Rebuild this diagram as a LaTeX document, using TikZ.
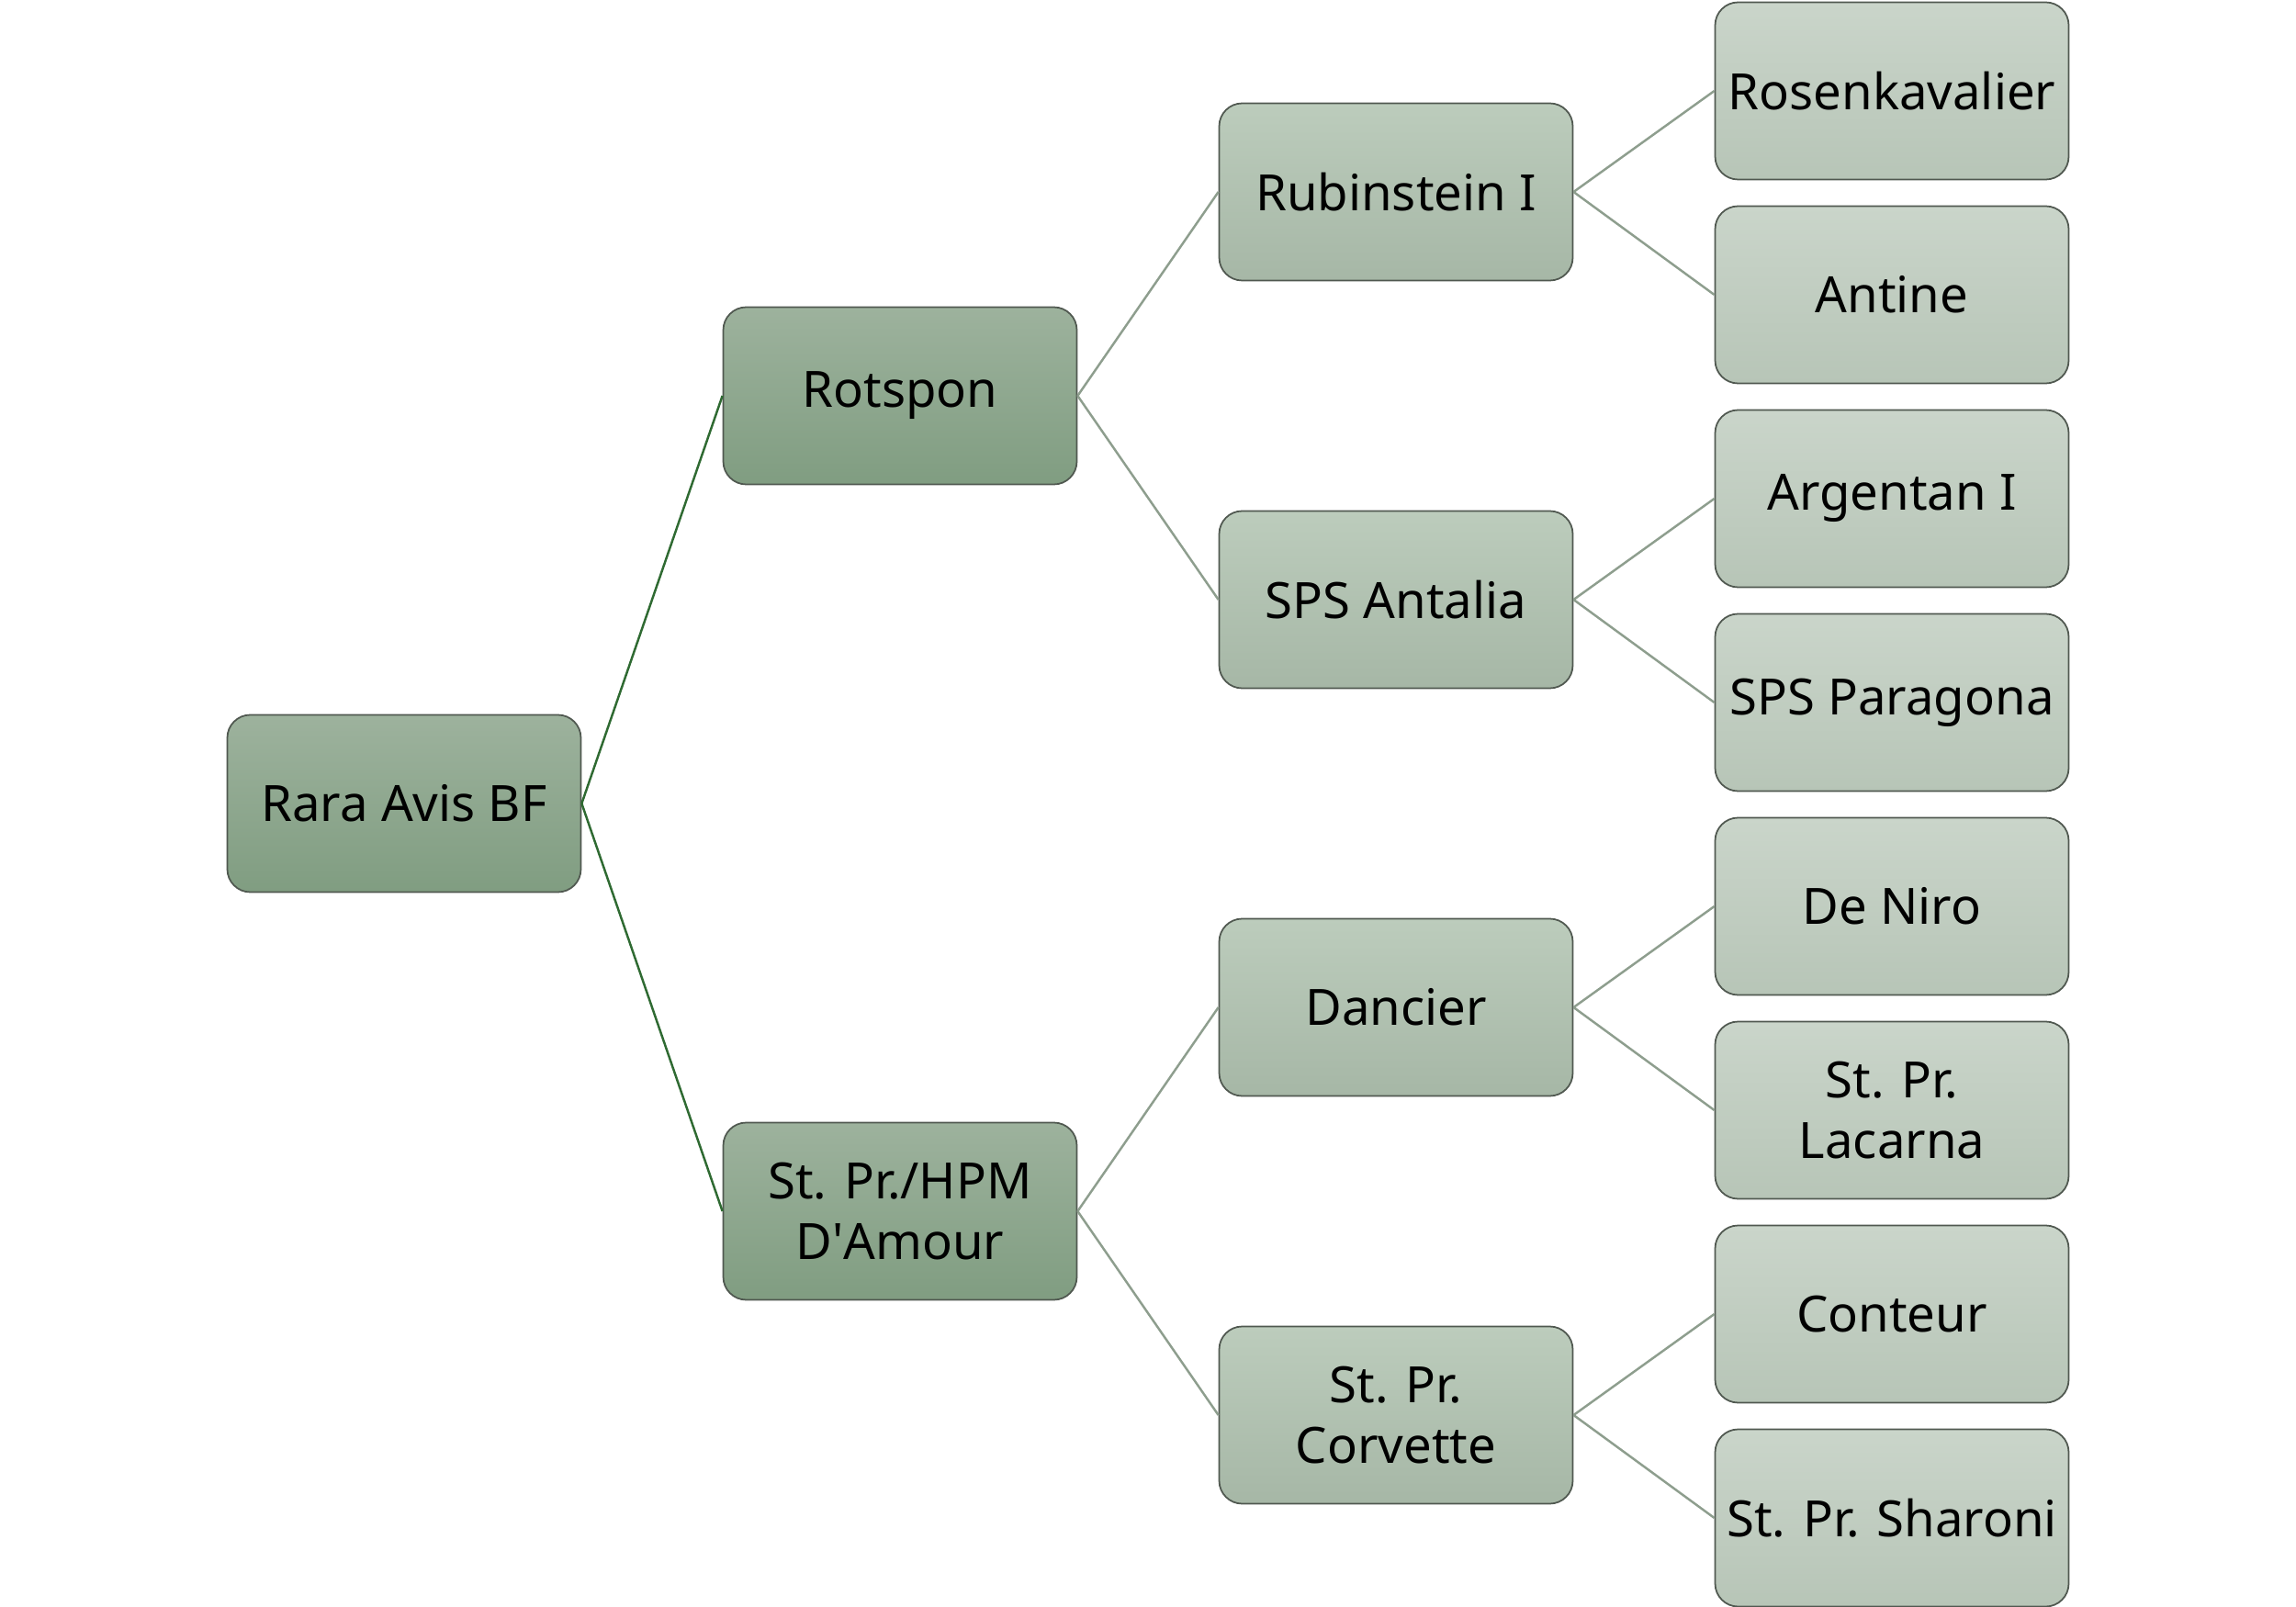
\documentclass[tikz,border=0pt]{standalone}
\usepackage{fontspec}
\setmainfont{Noto Sans}
\definecolor{lvA1}{HTML}{9DB29D}
\definecolor{lvA2}{HTML}{809D81}
\definecolor{lvB1}{HTML}{BCCCBC}
\definecolor{lvB2}{HTML}{A6B7A6}
\definecolor{lvC1}{HTML}{CAD5CA}
\definecolor{lvC2}{HTML}{B7C5B7}
\definecolor{edgeDark}{HTML}{2F6A32}
\definecolor{edgeGray}{HTML}{8E9E8E}
\definecolor{boxLine}{HTML}{505850}
\tikzset{
  box/.style={draw=boxLine, line width=0.5pt, rounded corners=0.25cm, minimum width=3.85cm, minimum height=1.93cm, inner sep=0pt, align=center, font=\fontsize{15.5}{18.6}\selectfont, text=black},
  lvA/.style={box, top color=lvA1, bottom color=lvA2},
  lvB/.style={box, top color=lvB1, bottom color=lvB2},
  lvC/.style={box, top color=lvC1, bottom color=lvC2},
  darkedge/.style={draw=edgeDark, line width=0.7pt},
  grayedge/.style={draw=edgeGray, line width=0.7pt}
}
\begin{document}
\begin{tikzpicture}
\useasboundingbox (0,0) rectangle (25,-17.5);
\node[lvA] (root) at (4.40,-8.75) {Rara Avis BF};
\node[lvA] (rot) at (9.80,-4.31) {Rotspon};
\node[lvA] (dam) at (9.80,-13.19) {St. Pr./HPM\\D\textquotesingle Amour};
\node[lvB] (rub) at (15.20,-2.09) {Rubinstein I};
\node[lvB] (ant) at (15.20,-6.53) {SPS Antalia};
\node[lvB] (dan) at (15.20,-10.97) {Dancier};
\node[lvB] (cor) at (15.20,-15.41) {St. Pr.\\Corvette};
\node[lvC] (l1) at (20.60,-0.99) {Rosenkavalier};
\node[lvC] (l2) at (20.60,-3.21) {Antine};
\node[lvC] (l3) at (20.60,-5.43) {Argentan I};
\node[lvC] (l4) at (20.60,-7.65) {SPS Paragona};
\node[lvC] (l5) at (20.60,-9.87) {De Niro};
\node[lvC] (l6) at (20.60,-12.09) {St. Pr.\\Lacarna};
\node[lvC] (l7) at (20.60,-14.31) {Conteur};
\node[lvC] (l8) at (20.60,-16.53) {St. Pr. Sharoni};
\draw[darkedge] (root.east) -- (rot.west);
\draw[darkedge] (root.east) -- (dam.west);
\draw[grayedge] (rot.east) -- (rub.west);
\draw[grayedge] (rot.east) -- (ant.west);
\draw[grayedge] (dam.east) -- (dan.west);
\draw[grayedge] (dam.east) -- (cor.west);
\draw[grayedge] (rub.east) -- (l1.west);
\draw[grayedge] (rub.east) -- (l2.west);
\draw[grayedge] (ant.east) -- (l3.west);
\draw[grayedge] (ant.east) -- (l4.west);
\draw[grayedge] (dan.east) -- (l5.west);
\draw[grayedge] (dan.east) -- (l6.west);
\draw[grayedge] (cor.east) -- (l7.west);
\draw[grayedge] (cor.east) -- (l8.west);
\end{tikzpicture}
\end{document}
